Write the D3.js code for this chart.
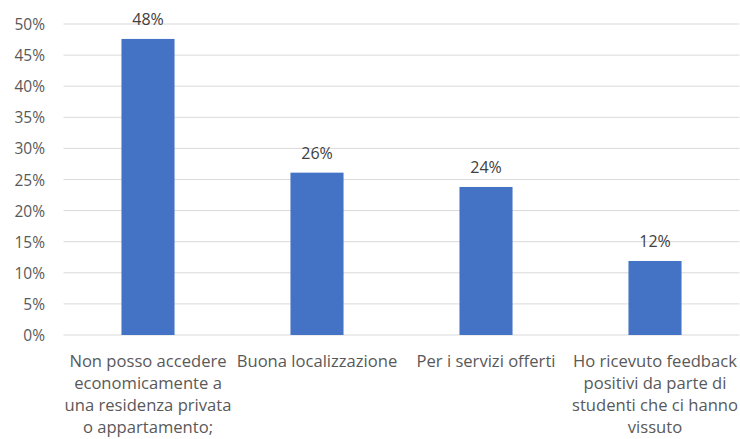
<!DOCTYPE html>
<html><head><meta charset="utf-8">
<script src="https://cdn.jsdelivr.net/npm/d3@7"></script>
<style>body{margin:0;background:#fff}</style>
</head><body>
<svg id="c" width="740" height="439"></svg>
<script>
const categories = [
  ["Non posso accedere","economicamente a","una residenza privata","o appartamento;"],
  ["Buona localizzazione"],
  ["Per i servizi offerti"],
  ["Ho ricevuto feedback","positivi da parte di","studenti che ci hanno","vissuto"]
];
const values = [47.6, 26.1, 23.8, 11.9];
const valueLabels = ["48%","26%","24%","12%"];
const yTicks = [0,5,10,15,20,25,30,35,40,45,50];

const svg = d3.select("#c");
const font = "'Open Sans', sans-serif";
const x = d3.scaleBand().domain(d3.range(categories.length)).range([63.5, 739.5]).paddingInner(0.686).paddingOuter(0.343);
const y = d3.scaleLinear().domain([0,50]).range([335,24]);

svg.append("g").selectAll("line").data(yTicks).join("line")
  .attr("x1",63.5).attr("x2",739.5).attr("y1",d=>y(d)).attr("y2",d=>y(d))
  .attr("stroke","#d9d9d9").attr("stroke-width",1);

svg.append("g").selectAll("text").data(yTicks).join("text")
  .attr("x",45).attr("y",d=>y(d)+6).attr("text-anchor","end")
  .attr("font-family",font).attr("font-size",15.5).attr("fill","#595959")
  .text(d=>d+"%");

svg.append("g").selectAll("rect").data(values).join("rect")
  .attr("x",(d,i)=>x(i)).attr("width",x.bandwidth())
  .attr("y",d=>y(d)).attr("height",d=>y(0)-y(d)).attr("fill","#4472c4");

svg.append("g").selectAll("text").data(values).join("text")
  .attr("x",(d,i)=>x(i)+x.bandwidth()/2).attr("y",d=>y(d)-14)
  .attr("text-anchor","middle").attr("font-family",font).attr("font-size",16).attr("fill","#404040")
  .text((d,i)=>valueLabels[i]);

const cg = svg.append("g");
categories.forEach((lines,i)=>{
  const t = cg.append("text").attr("text-anchor","middle").attr("font-family",font)
    .attr("font-size",16.6).attr("fill","#595959");
  lines.forEach((l,j)=>{
    t.append("tspan").attr("x",x(i)+x.bandwidth()/2).attr("y",367+j*22).text(l);
  });
});
</script>
</body></html>
